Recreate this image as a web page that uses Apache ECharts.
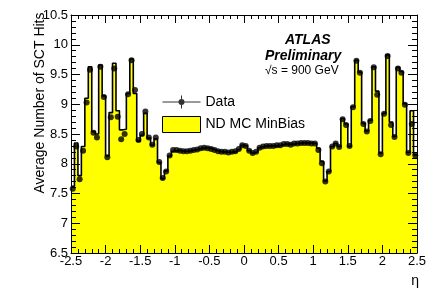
<!DOCTYPE html>
<html>
<head>
<meta charset="utf-8">
<script src="https://cdn.jsdelivr.net/npm/echarts@6/dist/echarts.min.js"></script>
<style>
html,body{margin:0;padding:0;background:#fff;}
#chart{width:440px;height:302px;}
</style>
</head>
<body>
<div id="chart"></div>
<script>
// ---- data ----
const etaMin = -2.5;
const etaMax = 2.5;
const binWidth = 0.05;

// ND MC MinBias histogram (average SCT hits per eta bin)
const mcHits = [
  7.62, 8.35, 7.80, 8.29, 9.10, 9.63, 8.54, 8.50, 9.66, 9.14,
  8.13, 8.86, 9.69, 8.89, 8.57, 8.58, 9.18, 9.76, 9.18, 8.38,
  8.48, 8.85, 8.43, 8.31, 8.42, 8.02, 7.75, 7.88, 8.13, 8.21,
  8.22, 8.22, 8.21, 8.21, 8.22, 8.23, 8.24, 8.26, 8.27, 8.27,
  8.25, 8.23, 8.21, 8.20, 8.20, 8.19, 8.20, 8.20, 8.24, 8.31,
  8.30, 8.22, 8.18, 8.20, 8.27, 8.29, 8.30, 8.30, 8.30, 8.30,
  8.31, 8.33, 8.33, 8.32, 8.34, 8.34, 8.35, 8.35, 8.35, 8.35,
  8.34, 8.26, 8.04, 7.71, 7.87, 8.29, 8.34, 8.29, 8.76, 8.67,
  8.29, 8.96, 9.74, 9.54, 8.68, 8.55, 8.73, 9.63, 9.22, 8.18,
  8.85, 9.83, 8.70, 8.46, 9.62, 9.55, 9.01, 8.19, 8.89, 8.15
];

// Data points
const dataHits = [
  7.58, 8.29, 7.74, 8.22, 9.03, 9.58, 8.52, 8.44, 9.63, 9.12,
  8.11, 8.78, 9.60, 8.79, 8.41, 8.50, 9.17, 9.74, 9.24, 8.40,
  8.50, 8.88, 8.44, 8.32, 8.44, 8.03, 7.76, 7.87, 8.14, 8.23,
  8.23, 8.22, 8.21, 8.21, 8.22, 8.23, 8.24, 8.26, 8.27, 8.26,
  8.25, 8.23, 8.21, 8.20, 8.20, 8.19, 8.20, 8.21, 8.25, 8.31,
  8.30, 8.22, 8.18, 8.20, 8.27, 8.29, 8.30, 8.30, 8.30, 8.31,
  8.31, 8.33, 8.33, 8.32, 8.34, 8.34, 8.35, 8.35, 8.35, 8.34,
  8.34, 8.23, 8.01, 7.70, 7.87, 8.29, 8.34, 8.28, 8.75, 8.65,
  8.30, 8.95, 9.73, 9.53, 8.67, 8.54, 8.72, 9.62, 9.16, 8.16,
  8.84, 9.81, 8.65, 8.45, 9.60, 9.53, 8.99, 8.18, 8.67, 8.14
];

const yMin = 6.5, yMax = 10.5, yStep = 0.5, xStep = 0.5;
const seriesNames = ['Data', 'ND MC MinBias'];
const yTitle = 'Average Number of SCT Hits';
const xTitle = 'η';
const atlasLines = ['ATLAS', 'Preliminary', '√s = 900 GeV'];

// ---- build ----
const FONT = '"Liberation Sans", Arial, Helvetica, sans-serif';
const histData = mcHits.map((v, i) => [etaMin + i * binWidth, v]);
histData.push([etaMax, mcHits[mcHits.length - 1]]);
const pointData = dataHits.map((v, i) => [etaMin + (i + 0.5) * binWidth, v]);

function xAxisDef(pos, showLabel) {
  return {
    type: 'value', position: pos, min: etaMin, max: etaMax, interval: xStep, z: 10,
    axisLine: { show: true, onZero: false, lineStyle: { color: '#000', width: 1 } },
    axisTick: { show: true, inside: true, length: 8, lineStyle: { color: '#000', width: 1 } },
    minorTick: { show: true, splitNumber: 5, length: 4, lineStyle: { color: '#000', width: 1 } },
    splitLine: { show: false }, minorSplitLine: { show: false },
    axisLabel: { show: showLabel, color: '#000', fontSize: 13, fontFamily: FONT, margin: 2,
      formatter: v => String(Math.round(v * 10) / 10) }
  };
}
function yAxisDef(pos, showLabel) {
  return {
    type: 'value', position: pos, min: yMin, max: yMax, interval: yStep, z: 10,
    axisLine: { show: true, onZero: false, lineStyle: { color: '#000', width: 1 } },
    axisTick: { show: true, inside: true, length: 9, lineStyle: { color: '#000', width: 1 } },
    minorTick: { show: true, splitNumber: 5, length: 5, lineStyle: { color: '#000', width: 1 } },
    splitLine: { show: false }, minorSplitLine: { show: false },
    axisLabel: { show: showLabel, color: '#000', fontSize: 13, fontFamily: FONT, margin: 3,
      formatter: v => String(Math.round(v * 10) / 10) }
  };
}

const chart = echarts.init(document.getElementById('chart'), null, { renderer: 'canvas', width: 440, height: 302 });
chart.setOption({
  animation: false,
  backgroundColor: '#fff',
  textStyle: { fontFamily: FONT },
  grid: { left: 71, right: 23, top: 15, bottom: 49, containLabel: false, outerBoundsMode: 'none' },
  xAxis: [xAxisDef('bottom', true), xAxisDef('top', false)],
  yAxis: [yAxisDef('left', true), yAxisDef('right', false)],
  legend: {
    show: true, orient: 'vertical', left: 157, top: 90, padding: 5,
    itemWidth: 38, itemHeight: 16, itemGap: 7, selectedMode: false,
    textStyle: { fontSize: 14, color: '#000', fontFamily: FONT },
    data: [
      { name: seriesNames[0],
        icon: 'path://M0 7.5 L38 7.5 L38 8.5 L0 8.5 Z M18.5 1.5 L19.5 1.5 L19.5 14.5 L18.5 14.5 Z M16 8 A3 3 0 1 1 22 8 A3 3 0 1 1 16 8 Z',
        itemStyle: { color: '#000', borderWidth: 0 } },
      { name: seriesNames[1], icon: 'rect',
        itemStyle: { color: '#ffff00', borderColor: '#000', borderWidth: 1 } }
    ]
  },
  graphic: [
    { type: 'text', x: 40, y: 103, rotation: Math.PI / 2,
      style: { text: yTitle, fontSize: 14, fontFamily: FONT, fill: '#000', align: 'center', verticalAlign: 'middle' } },
    { type: 'text', x: 419, y: 281,
      style: { text: xTitle, fontSize: 14, fontFamily: FONT, fill: '#000', align: 'right', verticalAlign: 'middle' } },
    { type: 'text', x: 285, y: 40,
      style: { text: atlasLines[0], fontSize: 14, fontWeight: 'bold', fontStyle: 'italic', fontFamily: FONT, fill: '#000', align: 'left', verticalAlign: 'middle' } },
    { type: 'text', x: 265, y: 56,
      style: { text: atlasLines[1], fontSize: 14, fontWeight: 'bold', fontStyle: 'italic', fontFamily: FONT, fill: '#000', align: 'left', verticalAlign: 'middle' } },
    { type: 'text', x: 265, y: 71,
      style: { text: atlasLines[2], fontSize: 12, fontFamily: FONT, fill: '#000', align: 'left', verticalAlign: 'middle' } }
  ],
  series: [
    { name: seriesNames[1], type: 'line', xAxisIndex: 0, yAxisIndex: 0,
      data: histData, step: 'end', symbol: 'none', z: 2,
      lineStyle: { color: '#000', width: 1.6 },
      itemStyle: { color: '#ffff00' },
      areaStyle: { color: '#ffff00', opacity: 1, origin: 'start' },
      emphasis: { disabled: true } },
    { name: seriesNames[0], type: 'scatter', xAxisIndex: 0, yAxisIndex: 0,
      data: pointData, symbol: 'circle', symbolSize: 6, z: 4,
      itemStyle: { color: '#000' },
      emphasis: { disabled: true } }
  ]
});
</script>
</body>
</html>
